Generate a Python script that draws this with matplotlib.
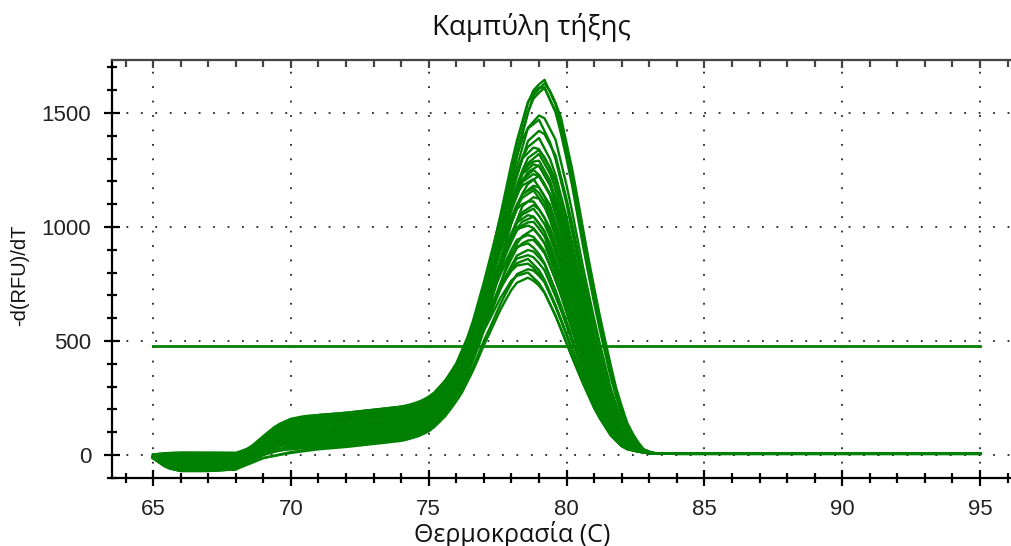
import numpy as np
import matplotlib
matplotlib.use("Agg")
import matplotlib.pyplot as plt
from matplotlib.ticker import MultipleLocator

# ---------------- data ----------------
title = "Καμπύλη τήξης"
xlabel = "Θερμοκρασία (C)"
ylabel = "-d(RFU)/dT"
x_ticks = [65, 70, 75, 80, 85, 90, 95]
y_ticks = [0, 500, 1000, 1500]
threshold = 480

temps = np.arange(65.0, 95.01, 0.2)

# peak heights of the individual melt curves
peak_heights = [1645, 1635, 1625, 1610, 1500, 1470, 1430, 1390, 1360, 1340,
                1320, 1300, 1285, 1270, 1255, 1240, 1225, 1210, 1190, 1175,
                1160, 1140, 1120, 1100, 1080, 1060, 1045, 1030, 1010, 990,
                970, 950, 930, 905, 880, 860, 840, 820, 800, 780]
# melting temperature (peak position) of each curve
peak_temps = [79.2, 79.25, 79.15, 79.2, 79.1, 79.0, 79.1, 79.0, 78.9, 79.05,
              79.0, 78.95, 78.9, 79.0, 78.85, 78.9, 79.0, 78.8, 78.9, 78.85,
              78.8, 78.9, 78.75, 78.85, 78.8, 78.7, 78.8, 78.75, 78.7, 78.8,
              78.7, 78.75, 78.65, 78.7, 78.7, 78.6, 78.65, 78.7, 78.6, 78.65]
# height of the low-temperature shoulder (~70 C) of each curve
shoulder_levels = [120, 60, 140, 90, 30, 150, 80, 110, 20, 130,
                   70, 100, 40, 145, 10, 90, 60, 125, 35, 115,
                   75, 5, 135, 50, 95, 25, 110, 65, 150, 15,
                   85, 45, 120, 30, 100, 55, 140, 20, 70, 0]
# depth of the baseline dip between 65 and 68 C
baseline_dips = [40, 10, 65, 25, 55, -10, 30, 70, 15, 50,
                 5, 60, 35, 45, -5, 20, 65, 40, 10, 55,
                 30, 70, 0, 45, 25, 60, 15, 50, 35, -10,
                 65, 20, 40, 55, 5, 30, 70, 45, 10, 60]

# shape tables
peak_shape_dt = [-4.5, -4.0, -3.5, -3.0, -2.5, -2.0, -1.5, -1.0, -0.5, 0.0,
                 0.5, 1.0, 1.5, 2.0, 2.5, 3.0, 3.5, 4.0]
peak_shape_val = [0.0, 0.01, 0.04, 0.10, 0.20, 0.36, 0.56, 0.77, 0.94, 1.0,
                  0.93, 0.76, 0.55, 0.36, 0.19, 0.07, 0.01, 0.0]
step_t = [65, 68, 68.5, 69, 69.5, 70, 70.5, 77, 78, 79, 80, 81, 82, 83, 95]
step_val = [0, 0, 0.15, 0.5, 0.8, 0.95, 1.0, 1.0, 0.9, 0.7, 0.45, 0.2, 0.05, 0, 0]
ramp_t = [65, 68, 69, 70, 71, 72, 73, 74, 75, 76, 77, 78, 79, 80, 81, 82, 83, 84, 95]
ramp_val = [0, 0, 5, 15, 25, 35, 48, 62, 85, 130, 170, 170, 150, 110, 60, 22, 8, 5, 5]
dip_t = [65, 65.5, 66, 67, 68, 68.5, 69, 70, 71, 95]
dip_val = [0.2, 0.8, 1.0, 1.0, 0.9, 0.6, 0.3, 0.1, 0.0, 0.0]

# ---------------- figure ----------------
W, H = 1012, 546
fig = plt.figure(figsize=(W / 100, H / 100), dpi=100)
ax = fig.add_axes([112 / W, 1 - 478 / H, (W - 112) / W, (478 - 60) / H])

green = "#008000"
step_c = np.interp(temps, step_t, step_val)
ramp_c = np.interp(temps, ramp_t, ramp_val)
dip_c = np.interp(temps, dip_t, dip_val)
for h, tc, s, d in zip(peak_heights, peak_temps, shoulder_levels, baseline_dips):
    base = s * step_c + ramp_c - d * dip_c
    base_at_peak = s * np.interp(tc, step_t, step_val) + np.interp(tc, ramp_t, ramp_val)
    amp = h - base_at_peak
    y = base + amp * np.interp(temps - tc, peak_shape_dt, peak_shape_val)
    ax.plot(temps, y, color=green, lw=1.7, zorder=3)

ax.plot([65, 95], [threshold, threshold], color=green, lw=2.0, zorder=4)

ax.set_xlim(63.51, 96.16)
ax.set_ylim(-101, 1732)
ax.set_xticks(x_ticks)
ax.set_yticks(y_ticks)
ax.xaxis.set_minor_locator(MultipleLocator(1))
ax.yaxis.set_minor_locator(MultipleLocator(100))

ax.grid(True, which="major", color="#222222", linestyle=(0, (1, 7)), lw=1.3, zorder=1)
ax.spines["right"].set_visible(False)
for sp in ["left", "bottom", "top"]:
    ax.spines[sp].set_linewidth(1.6)
ax.spines["top"].set_color("#444444")

ax.tick_params(axis="both", which="major", direction="inout", length=12, width=1.6,
               labelsize=16, colors="black")
ax.tick_params(axis="both", which="minor", direction="inout", length=7, width=1.6)
ax.tick_params(axis="x", which="major", pad=9)
ax.tick_params(axis="y", which="major", pad=9)
for lab in ax.get_xticklabels() + ax.get_yticklabels():
    lab.set_fontfamily("Liberation Sans")
    lab.set_color("#222222")

# top axis: inward ticks only
sec = ax.secondary_xaxis("top")
sec.set_xticks(x_ticks)
sec.xaxis.set_minor_locator(MultipleLocator(1))
sec.tick_params(which="major", direction="in", length=6, width=1.6, labeltop=False,
                colors="#444444")
sec.tick_params(which="minor", direction="in", length=5, width=1.6, colors="#444444")
sec.spines["top"].set_visible(False)

fig.text(531 / W, 1 - 28 / H, title, ha="center", va="center", fontsize=20,
         family="Open Sans", color="#111111")
fig.text(512 / W, 1 - 534 / H, xlabel, ha="center", va="center", fontsize=18,
         family="Open Sans", color="#111111")
fig.text(20 / W, 1 - 275 / H, ylabel, ha="center", va="center", fontsize=14.5,
         family="Liberation Sans", rotation=90, color="#111111")

fig.savefig("out.png", dpi=100)
